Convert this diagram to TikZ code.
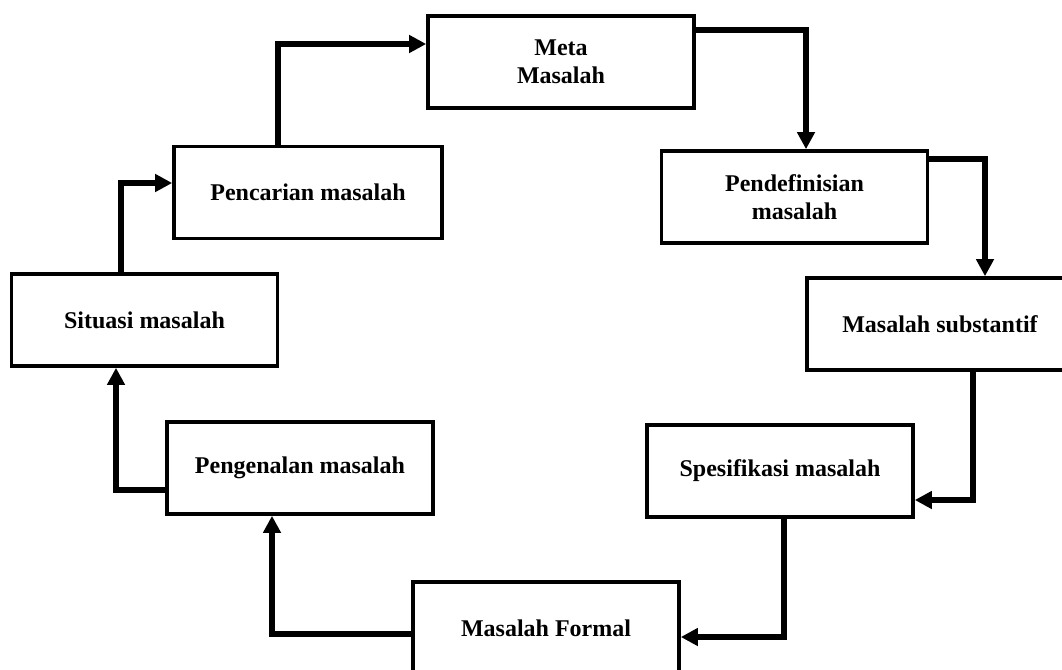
\documentclass[tikz,border=0pt]{standalone}
\usepackage{fontspec}
\setmainfont{Liberation Serif}
\usetikzlibrary{arrows.meta}
\tikzset{
  box/.style={draw=black, line width=3.6pt, minimum width=266pt, minimum height=92pt,
    inner sep=0pt, align=center, font=\bfseries\fontsize{24}{28.5}\selectfont},
  flow/.style={line width=6pt, line join=miter, -{Triangle[length=17pt,width=17pt]}}
}
\begin{document}
\begin{tikzpicture}[x=1pt,y=-1pt]
\useasboundingbox (0,0) rectangle (1062,669);
\clip (0,0) rectangle (1062,669);
\fill[white] (0,0) rectangle (1062,669);
% boxes
\node[box] (meta) at (561,62) {Meta\\Masalah};
\node[box] (pend) at (794.5,197) {Pendefinisian\\masalah};
\node[box] (subs) at (940,324) {Masalah substantif};
\node[box] (spes) at (780,471) {Spesifikasi masalah};
\node[box] (form) at (546,628) {Masalah Formal};
\node[box] (peng) at (300,468) {Pengenalan masalah};
\node[box] (situ) at (144.5,320) {Situasi masalah};
\node[box, minimum width=268pt] (penc) at (308,192.5) {Pencarian masalah};
% connectors
\draw[flow] ([xshift=-23.5pt]situ.north) |- ([yshift=9.5pt]penc.west);
\draw[flow] ([xshift=-30pt]penc.north) |- ([yshift=18pt]meta.west);
\draw[flow] ([xshift=-4pt,yshift=32pt]meta.east) -| ([xshift=11.5pt]pend.north);
\draw[flow] ([yshift=38pt]pend.east) -| ([xshift=45pt]subs.north);
\draw[flow] ([xshift=33pt]subs.south) |- ([yshift=-29pt]spes.east);
\draw[flow] ([xshift=4pt]spes.south) |- ([yshift=-9pt]form.east);
\draw[flow] ([xshift=2pt,yshift=-6pt]form.west) -| ([xshift=-28pt]peng.south);
\draw[flow] ([yshift=-22pt]peng.west) -| ([xshift=-28.5pt]situ.south);
\end{tikzpicture}
\end{document}
